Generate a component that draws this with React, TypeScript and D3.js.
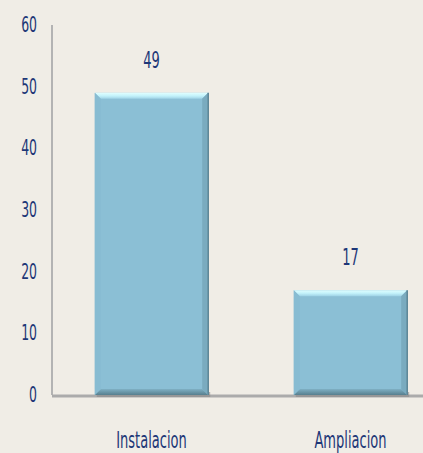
import * as d3 from 'd3'

const categories = ['Instalacion', 'Ampliacion']
const values = [49, 17]
const yTicks = [0, 10, 20, 30, 40, 50, 60]

export default function App() {
  const width = 423
  const height = 453
  const left = 52
  const top = 25
  const base = 395

  const x = d3.scaleBand().domain(categories).range([left, 450]).paddingInner(0.43).paddingOuter(0.215)
  const y = d3.scaleLinear().domain([0, 60]).range([base, top])
  const bw = x.bandwidth()
  const navy = '#1d3777'
  const font = '"Liberation Sans Narrow", "DejaVu Sans Condensed", sans-serif'
  const bev = 6
  const sx = 0.63

  return (
    <svg width={width} height={height} style={{ position: 'absolute', left: 0, top: 0, display: 'block' }}>
      <defs>
        <linearGradient id="topBev" x1="0" y1="0" x2="0" y2="1">
          <stop offset="0" stopColor="#e0feff" />
          <stop offset="0.5" stopColor="#c4f3fb" />
          <stop offset="1" stopColor="#9fd3e6" />
        </linearGradient>
        <linearGradient id="botBev" x1="0" y1="0" x2="0" y2="1">
          <stop offset="0" stopColor="#7fb0c4" />
          <stop offset="1" stopColor="#577f8e" />
        </linearGradient>
      </defs>
      <rect width={width} height={height} fill="#f0ede6" />

      {/* axes */}
      <line x1={left} x2={left} y1={top} y2={base} stroke="#b3b3b3" strokeWidth={2} />
      <line x1={left} x2={width} y1={base + 1} y2={base + 1} stroke="#ababab" strokeWidth={3} />

      {yTicks.map(t => (
        <text key={t} x={0} y={0} transform={`translate(37,${y(t) + 7}) scale(${sx},1)`} textAnchor="end"
          fill={navy} fontFamily={font} fontSize={22}>{t}</text>
      ))}

      {categories.map((c, i) => {
        const x0 = x(c) as number
        const y0 = y(values[i])
        const x1 = x0 + bw
        const h = base - y0
        return (
          <g key={c}>
            <rect x={x0 + 2} y={base - 3} width={bw} height={5} fill="#8a8a8a" opacity={0.6} />
            <rect x={x0} y={y0} width={bw} height={h} fill="#8bbfd5" />
            <polygon points={`${x0},${y0} ${x1},${y0} ${x1 - bev},${y0 + bev} ${x0 + bev},${y0 + bev}`} fill="url(#topBev)" />
            <polygon points={`${x0},${base} ${x1},${base} ${x1 - bev},${base - bev} ${x0 + bev},${base - bev}`} fill="url(#botBev)" />
            <polygon points={`${x1},${y0} ${x1},${base} ${x1 - bev},${base - bev} ${x1 - bev},${y0 + bev}`} fill="#7aabbf" />
            <polygon points={`${x0},${y0} ${x0},${base} ${x0 + bev},${base - bev} ${x0 + bev},${y0 + bev}`} fill="#88bcd2" />
            <line x1={x1} x2={x1} y1={y0} y2={base} stroke="#5d8596" strokeWidth={1.5} />
            <text x={0} y={0} transform={`translate(${x0 + bw / 2},${y0 - 25}) scale(${sx},1)`} textAnchor="middle"
              fill={navy} fontFamily={font} fontSize={23}>{values[i]}</text>
            <text x={0} y={0} transform={`translate(${x0 + bw / 2},${448}) scale(${sx},1)`} textAnchor="middle"
              fill={navy} fontFamily={font} fontSize={23}>{c}</text>
          </g>
        )
      })}
    </svg>
  )
}
